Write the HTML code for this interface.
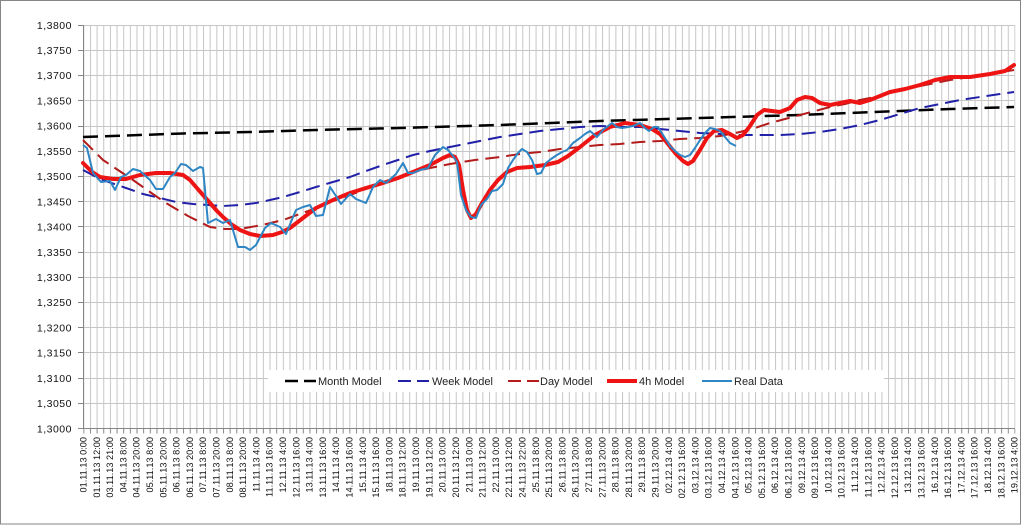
<!DOCTYPE html>
<html><head><meta charset="utf-8"><style>
html,body{margin:0;padding:0;background:#fff;}
svg{display:block;}
</style></head><body>
<svg width="1024" height="526" viewBox="0 0 1024 526" xmlns="http://www.w3.org/2000/svg">
<defs>
<pattern id="vg" patternUnits="userSpaceOnUse" x="83.3" y="0" width="6.651" height="526">
<rect x="0" y="0" width="1" height="526" fill="#c6c6c6"/>
</pattern>
<pattern id="vt" patternUnits="userSpaceOnUse" x="83.3" y="0" width="6.651" height="526">
<rect x="0" y="0" width="1" height="526" fill="#868686"/>
</pattern>
</defs>
<rect x="0" y="0" width="1024" height="526" fill="#fff"/>
<rect x="0.5" y="0.5" width="1020" height="523.5" fill="none" stroke="#868686" stroke-width="1"/>
<!-- vertical gridlines -->
<rect x="83.8" y="25" width="931.5" height="403.5" fill="url(#vg)"/>
<!-- horizontal gridlines -->
<g stroke="#c6c6c6" stroke-width="1" shape-rendering="crispEdges">
<line x1="83" x2="1015" y1="25.5" y2="25.5"/>
<line x1="83" x2="1015" y1="50.5" y2="50.5"/>
<line x1="83" x2="1015" y1="75.5" y2="75.5"/>
<line x1="83" x2="1015" y1="100.5" y2="100.5"/>
<line x1="83" x2="1015" y1="126.5" y2="126.5"/>
<line x1="83" x2="1015" y1="151.5" y2="151.5"/>
<line x1="83" x2="1015" y1="176.5" y2="176.5"/>
<line x1="83" x2="1015" y1="201.5" y2="201.5"/>
<line x1="83" x2="1015" y1="226.5" y2="226.5"/>
<line x1="83" x2="1015" y1="252.5" y2="252.5"/>
<line x1="83" x2="1015" y1="277.5" y2="277.5"/>
<line x1="83" x2="1015" y1="302.5" y2="302.5"/>
<line x1="83" x2="1015" y1="327.5" y2="327.5"/>
<line x1="83" x2="1015" y1="352.5" y2="352.5"/>
<line x1="83" x2="1015" y1="378.5" y2="378.5"/>
<line x1="83" x2="1015" y1="403.5" y2="403.5"/>
</g>
<!-- axes -->
<g stroke="#868686" stroke-width="1" shape-rendering="crispEdges">
<line x1="83.5" y1="25" x2="83.5" y2="429"/>
<line x1="78" y1="428.5" x2="1015" y2="428.5"/>
<line x1="78" x2="83" y1="25.5" y2="25.5"/>
<line x1="78" x2="83" y1="50.5" y2="50.5"/>
<line x1="78" x2="83" y1="75.5" y2="75.5"/>
<line x1="78" x2="83" y1="100.5" y2="100.5"/>
<line x1="78" x2="83" y1="126.5" y2="126.5"/>
<line x1="78" x2="83" y1="151.5" y2="151.5"/>
<line x1="78" x2="83" y1="176.5" y2="176.5"/>
<line x1="78" x2="83" y1="201.5" y2="201.5"/>
<line x1="78" x2="83" y1="226.5" y2="226.5"/>
<line x1="78" x2="83" y1="252.5" y2="252.5"/>
<line x1="78" x2="83" y1="277.5" y2="277.5"/>
<line x1="78" x2="83" y1="302.5" y2="302.5"/>
<line x1="78" x2="83" y1="327.5" y2="327.5"/>
<line x1="78" x2="83" y1="352.5" y2="352.5"/>
<line x1="78" x2="83" y1="378.5" y2="378.5"/>
<line x1="78" x2="83" y1="403.5" y2="403.5"/>
</g>
<rect x="83.3" y="429" width="932" height="4.5" fill="url(#vt)"/>
<!-- y labels -->
<g font-family="Liberation Sans, Arial, sans-serif" font-size="10.5" letter-spacing="0.5" fill="#111" text-anchor="end">
<text x="72" y="25" dy="0.36em">1,3800</text>
<text x="72" y="50.2" dy="0.36em">1,3750</text>
<text x="72" y="75.4" dy="0.36em">1,3700</text>
<text x="72" y="100.7" dy="0.36em">1,3650</text>
<text x="72" y="125.9" dy="0.36em">1,3600</text>
<text x="72" y="151.1" dy="0.36em">1,3550</text>
<text x="72" y="176.3" dy="0.36em">1,3500</text>
<text x="72" y="201.5" dy="0.36em">1,3450</text>
<text x="72" y="226.8" dy="0.36em">1,3400</text>
<text x="72" y="252" dy="0.36em">1,3350</text>
<text x="72" y="277.2" dy="0.36em">1,3300</text>
<text x="72" y="302.4" dy="0.36em">1,3250</text>
<text x="72" y="327.6" dy="0.36em">1,3200</text>
<text x="72" y="352.9" dy="0.36em">1,3150</text>
<text x="72" y="378.1" dy="0.36em">1,3100</text>
<text x="72" y="403.3" dy="0.36em">1,3050</text>
<text x="72" y="428.5" dy="0.36em">1,3000</text>
</g>
<!-- x labels -->
<g font-family="Liberation Sans, Arial, sans-serif" font-size="9.2" fill="#111" text-anchor="end">
<text transform="translate(83.3,437) rotate(-90)" dy="0.35em">01.11.13 0:00</text>
<text transform="translate(96.6,437) rotate(-90)" dy="0.35em">01.11.13 12:00</text>
<text transform="translate(109.9,437) rotate(-90)" dy="0.35em">03.11.13 21:00</text>
<text transform="translate(123.2,437) rotate(-90)" dy="0.35em">04.11.13 8:00</text>
<text transform="translate(136.5,437) rotate(-90)" dy="0.35em">04.11.13 20:00</text>
<text transform="translate(149.8,437) rotate(-90)" dy="0.35em">05.11.13 8:00</text>
<text transform="translate(163.1,437) rotate(-90)" dy="0.35em">05.11.13 20:00</text>
<text transform="translate(176.4,437) rotate(-90)" dy="0.35em">06.11.13 8:00</text>
<text transform="translate(189.7,437) rotate(-90)" dy="0.35em">06.11.13 20:00</text>
<text transform="translate(203.0,437) rotate(-90)" dy="0.35em">07.11.13 8:00</text>
<text transform="translate(216.3,437) rotate(-90)" dy="0.35em">07.11.13 20:00</text>
<text transform="translate(229.6,437) rotate(-90)" dy="0.35em">08.11.13 8:00</text>
<text transform="translate(242.9,437) rotate(-90)" dy="0.35em">08.11.13 20:00</text>
<text transform="translate(256.2,437) rotate(-90)" dy="0.35em">11.11.13 4:00</text>
<text transform="translate(269.5,437) rotate(-90)" dy="0.35em">11.11.13 16:00</text>
<text transform="translate(282.8,437) rotate(-90)" dy="0.35em">12.11.13 4:00</text>
<text transform="translate(296.1,437) rotate(-90)" dy="0.35em">12.11.13 16:00</text>
<text transform="translate(309.4,437) rotate(-90)" dy="0.35em">13.11.13 4:00</text>
<text transform="translate(322.7,437) rotate(-90)" dy="0.35em">13.11.13 16:00</text>
<text transform="translate(336.0,437) rotate(-90)" dy="0.35em">14.11.13 4:00</text>
<text transform="translate(349.3,437) rotate(-90)" dy="0.35em">14.11.13 16:00</text>
<text transform="translate(362.6,437) rotate(-90)" dy="0.35em">15.11.13 4:00</text>
<text transform="translate(375.9,437) rotate(-90)" dy="0.35em">15.11.13 16:00</text>
<text transform="translate(389.2,437) rotate(-90)" dy="0.35em">18.11.13 0:00</text>
<text transform="translate(402.5,437) rotate(-90)" dy="0.35em">18.11.13 12:00</text>
<text transform="translate(415.8,437) rotate(-90)" dy="0.35em">19.11.13 0:00</text>
<text transform="translate(429.1,437) rotate(-90)" dy="0.35em">19.11.13 12:00</text>
<text transform="translate(442.5,437) rotate(-90)" dy="0.35em">20.11.13 0:00</text>
<text transform="translate(455.8,437) rotate(-90)" dy="0.35em">20.11.13 12:00</text>
<text transform="translate(469.1,437) rotate(-90)" dy="0.35em">21.11.13 0:00</text>
<text transform="translate(482.4,437) rotate(-90)" dy="0.35em">21.11.13 12:00</text>
<text transform="translate(495.7,437) rotate(-90)" dy="0.35em">22.11.13 0:00</text>
<text transform="translate(509.0,437) rotate(-90)" dy="0.35em">22.11.13 12:00</text>
<text transform="translate(522.3,437) rotate(-90)" dy="0.35em">24.11.13 22:00</text>
<text transform="translate(535.6,437) rotate(-90)" dy="0.35em">25.11.13 8:00</text>
<text transform="translate(548.9,437) rotate(-90)" dy="0.35em">25.11.13 20:00</text>
<text transform="translate(562.2,437) rotate(-90)" dy="0.35em">26.11.13 8:00</text>
<text transform="translate(575.5,437) rotate(-90)" dy="0.35em">26.11.13 20:00</text>
<text transform="translate(588.8,437) rotate(-90)" dy="0.35em">27.11.13 8:00</text>
<text transform="translate(602.1,437) rotate(-90)" dy="0.35em">27.11.13 20:00</text>
<text transform="translate(615.4,437) rotate(-90)" dy="0.35em">28.11.13 8:00</text>
<text transform="translate(628.7,437) rotate(-90)" dy="0.35em">28.11.13 20:00</text>
<text transform="translate(642.0,437) rotate(-90)" dy="0.35em">29.11.13 8:00</text>
<text transform="translate(655.3,437) rotate(-90)" dy="0.35em">29.11.13 20:00</text>
<text transform="translate(668.6,437) rotate(-90)" dy="0.35em">02.12.13 4:00</text>
<text transform="translate(681.9,437) rotate(-90)" dy="0.35em">02.12.13 16:00</text>
<text transform="translate(695.2,437) rotate(-90)" dy="0.35em">03.12.13 4:00</text>
<text transform="translate(708.5,437) rotate(-90)" dy="0.35em">03.12.13 16:00</text>
<text transform="translate(721.8,437) rotate(-90)" dy="0.35em">04.12.13 4:00</text>
<text transform="translate(735.1,437) rotate(-90)" dy="0.35em">04.12.13 16:00</text>
<text transform="translate(748.4,437) rotate(-90)" dy="0.35em">05.12.13 4:00</text>
<text transform="translate(761.7,437) rotate(-90)" dy="0.35em">05.12.13 16:00</text>
<text transform="translate(775.0,437) rotate(-90)" dy="0.35em">06.12.13 4:00</text>
<text transform="translate(788.3,437) rotate(-90)" dy="0.35em">06.12.13 16:00</text>
<text transform="translate(801.6,437) rotate(-90)" dy="0.35em">09.12.13 4:00</text>
<text transform="translate(814.9,437) rotate(-90)" dy="0.35em">09.12.13 16:00</text>
<text transform="translate(828.2,437) rotate(-90)" dy="0.35em">10.12.13 4:00</text>
<text transform="translate(841.5,437) rotate(-90)" dy="0.35em">10.12.13 16:00</text>
<text transform="translate(854.8,437) rotate(-90)" dy="0.35em">11.12.13 4:00</text>
<text transform="translate(868.1,437) rotate(-90)" dy="0.35em">11.12.13 16:00</text>
<text transform="translate(881.4,437) rotate(-90)" dy="0.35em">12.12.13 4:00</text>
<text transform="translate(894.7,437) rotate(-90)" dy="0.35em">12.12.13 16:00</text>
<text transform="translate(908.0,437) rotate(-90)" dy="0.35em">13.12.13 4:00</text>
<text transform="translate(921.3,437) rotate(-90)" dy="0.35em">13.12.13 16:00</text>
<text transform="translate(934.6,437) rotate(-90)" dy="0.35em">16.12.13 4:00</text>
<text transform="translate(947.9,437) rotate(-90)" dy="0.35em">16.12.13 16:00</text>
<text transform="translate(961.2,437) rotate(-90)" dy="0.35em">17.12.13 4:00</text>
<text transform="translate(974.5,437) rotate(-90)" dy="0.35em">17.12.13 16:00</text>
<text transform="translate(987.8,437) rotate(-90)" dy="0.35em">18.12.13 4:00</text>
<text transform="translate(1001.1,437) rotate(-90)" dy="0.35em">18.12.13 16:00</text>
<text transform="translate(1014.4,437) rotate(-90)" dy="0.35em">19.12.13 4:00</text>
</g>
<!-- series -->
<g fill="none" stroke-linejoin="round">
<polyline stroke="#000" stroke-width="2.5" stroke-dasharray="15 7" points="83,137 183,133.5 250,132 316,130 400,128 500,125 600,121 700,118 800,115 850,113 900,111 950,109 1014,107"/>
<polyline stroke="#2020a8" stroke-width="2" stroke-dasharray="14 7" points="83,170 100,179 126,188 143,194 160,198 176,202 193,204 208,205 223,206 240,205 256,203 270,200 283,197 300,192 316,187 333,182 350,177 366,171 383,165 398,160 413,155 430,151 450,147 475,142 500,137 520,134 540,131 560,129 580,127 600,126 620,127 640,127 660,129 680,131 700,133 720,134 740,135 760,135 780,135 800,134 820,132 840,129 860,125 880,120 900,114 920,108 940,104 960,100 980,97 1000,94 1014,92"/>
<polyline stroke="#b41c1c" stroke-width="2" stroke-dasharray="14 7" points="83,140 93,150 103,160 118,170 133,180 150,192 166,203 188,216 210,227 225,229 240,229 262,225 283,220 300,214 316,208 333,201 350,195 366,189 383,183 398,177 413,172 430,168 450,164 475,160 500,157 520,154 540,152 560,149 580,147 600,145 620,144 640,142 660,141 680,139 700,138 720,136 740,132 755,128 770,123 785,119 800,115 815,111 830,107 845,104 860,100 875,97 890,93 910,88 930,84 950,80 970,77 990,74 1014,70"/>
<polyline stroke="#ee1414" stroke-width="4" stroke-linecap="round" points="83,163 92,172 100,177 113,179 126,179 140,175 156,173 170,173 183,175 190,180 196,187 203,195 210,203 217,211 223,217 231,224 240,230 250,234 260,236 273,235 282,232 290,228 303,218 316,208 333,200 350,193 366,188 383,183 398,178 413,172 430,165 443,158 450,155 455,157 459,165 463,190 467,210 471,218 476,214 482,203 490,190 498,180 507,172 517,168 530,167 545,165 558,162 568,156 580,147 595,135 610,127 625,123 640,125 652,129 660,134 668,144 676,154 683,161 688,164 693,161 700,150 707,138 714,131 722,130 730,134 737,138 743,135 750,126 757,115 764,110 772,111 780,112 790,108 797,100 805,97 812,98 820,103 830,105 840,103 850,101 860,103 870,100 880,96 890,92 905,89 920,85 935,80 950,77 970,77 990,74 1005,71 1014,65"/>
<polyline stroke="#2f86c4" stroke-width="2" points="83,145 87,148 93,173 101,182 110,181 115,190 121,177 126,175 133,169 140,171 150,180 156,189 163,189 170,177 175,173 181,164 186,165 193,171 200,167 203,168 208,223 216,219 223,223 230,220 238,247 245,247 250,250 256,245 265,228 271,223 280,227 286,234 296,210 303,207 310,205 316,216 323,215 330,187 336,196 341,204 350,194 356,199 366,203 373,187 380,180 386,183 396,174 403,163 408,173 413,173 420,170 428,168 435,155 443,147 448,150 453,156 457,162 461,195 466,210 471,217 476,218 481,205 487,199 492,191 497,190 503,184 508,168 513,160 518,153 522,149 527,152 532,160 537,174 541,173 546,163 551,159 557,155 562,152 567,150 573,143 580,138 585,134 590,131 597,137 603,130 608,126 612,123 617,127 622,128 628,127 633,126 640,123 645,128 649,131 654,127 658,127 665,138 670,146 675,151 680,155 685,157 690,155 695,148 700,140 705,133 710,128 715,129 720,131 725,137 730,143 736,146"/>
</g>
<!-- legend -->
<rect x="268" y="370" width="616" height="22" fill="#fff"/>
<g fill="none">
<line x1="285" y1="381" x2="316" y2="381" stroke="#000" stroke-width="2.5" stroke-dasharray="13 6"/>
<line x1="398" y1="381" x2="429" y2="381" stroke="#2020a8" stroke-width="2" stroke-dasharray="13 6"/>
<line x1="508" y1="381" x2="539" y2="381" stroke="#b41c1c" stroke-width="2" stroke-dasharray="13 6"/>
<line x1="607" y1="381" x2="637" y2="381" stroke="#ee1414" stroke-width="4"/>
<line x1="702" y1="381" x2="732" y2="381" stroke="#2f86c4" stroke-width="2"/>
</g>
<g font-family="Liberation Sans, Arial, sans-serif" font-size="11" fill="#222">
<text x="318" y="385">Month Model</text>
<text x="432" y="385">Week Model</text>
<text x="540" y="385">Day Model</text>
<text x="639" y="385">4h Model</text>
<text x="734" y="385">Real Data</text>
</g>
</svg>
</body></html>
